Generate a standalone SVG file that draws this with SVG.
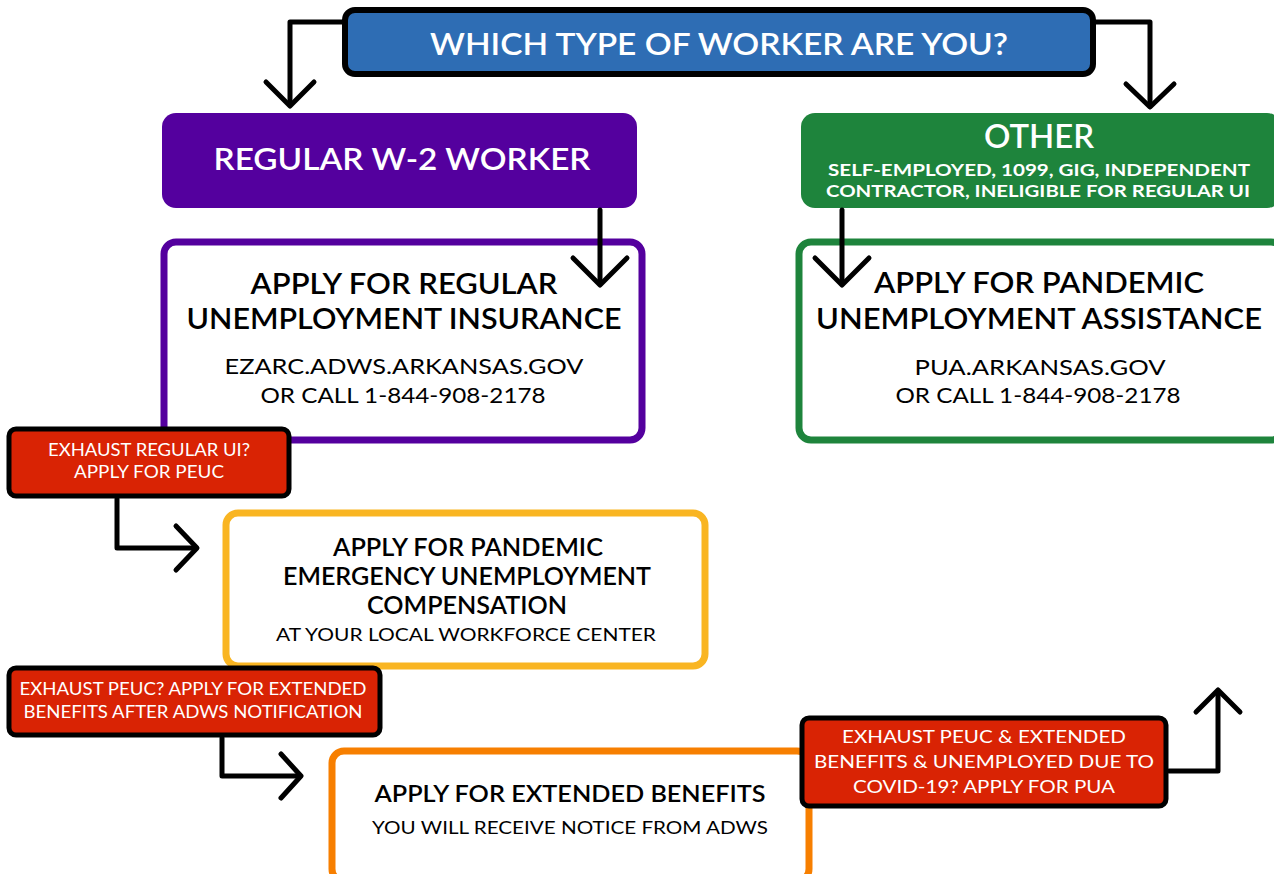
<svg xmlns="http://www.w3.org/2000/svg" width="1274" height="874" viewBox="0 0 1274 874">
<style>
text{font-family:Lato,"Open Sans","Liberation Sans",sans-serif;text-anchor:middle}
.w{fill:#fff}
.k{fill:#000}
.red{fill:#d92304;stroke:#000;stroke-width:5}
.conn{fill:none;stroke:#000;stroke-width:5;stroke-linecap:round;stroke-linejoin:round}
</style>
<rect width="1274" height="874" fill="#fff"/>
<g id="question">
<rect x="345" y="10" width="748" height="64" rx="10" fill="#2e6db4" stroke="#000" stroke-width="6"/>
<text x="719" y="55" class="w" font-size="30" font-weight="600" textLength="578" lengthAdjust="spacingAndGlyphs">WHICH TYPE OF WORKER ARE YOU?</text>
</g>
<g id="regular">
<rect x="162" y="113" width="475" height="95" rx="14" fill="#54009e"/>
<text x="402" y="170" class="w" font-size="30" font-weight="600" textLength="377" lengthAdjust="spacingAndGlyphs">REGULAR W-2 WORKER</text>
</g>
<g id="other">
<rect x="801" y="113" width="480" height="95" rx="14" fill="#1e843c"/>
<text x="1039" y="148" class="w" font-size="32" font-weight="600" textLength="110" lengthAdjust="spacingAndGlyphs">OTHER</text>
<text x="1039" y="176" class="w" font-size="17.5" font-weight="700" textLength="422" lengthAdjust="spacingAndGlyphs">SELF-EMPLOYED, 1099, GIG, INDEPENDENT</text>
<text x="1038" y="197" class="w" font-size="17.5" font-weight="700" textLength="424" lengthAdjust="spacingAndGlyphs">CONTRACTOR, INELIGIBLE FOR REGULAR UI</text>
</g>
<g id="apply-ui">
<rect x="164" y="242" width="478" height="198" rx="12" fill="#fff" stroke="#54009e" stroke-width="7"/>
<text x="404" y="294" class="k" font-size="28" font-weight="600" textLength="307" lengthAdjust="spacingAndGlyphs">APPLY FOR REGULAR</text>
<text x="404" y="329" class="k" font-size="28" font-weight="600" textLength="435" lengthAdjust="spacingAndGlyphs">UNEMPLOYMENT INSURANCE</text>
<text x="404" y="374" class="k" font-size="22" textLength="359" lengthAdjust="spacingAndGlyphs">EZARC.ADWS.ARKANSAS.GOV</text>
<text x="403" y="403" class="k" font-size="22" textLength="285" lengthAdjust="spacingAndGlyphs">OR CALL 1-844-908-2178</text>
</g>
<g id="apply-pua">
<rect x="799" y="242" width="484" height="198" rx="12" fill="#fff" stroke="#1e843c" stroke-width="7"/>
<text x="1039" y="293" class="k" font-size="28" font-weight="600" textLength="330" lengthAdjust="spacingAndGlyphs">APPLY FOR PANDEMIC</text>
<text x="1039" y="329" class="k" font-size="28" font-weight="600" textLength="446" lengthAdjust="spacingAndGlyphs">UNEMPLOYMENT ASSISTANCE</text>
<text x="1040" y="375" class="k" font-size="22" textLength="251" lengthAdjust="spacingAndGlyphs">PUA.ARKANSAS.GOV</text>
<text x="1038" y="403" class="k" font-size="22" textLength="285" lengthAdjust="spacingAndGlyphs">OR CALL 1-844-908-2178</text>
</g>
<g id="exhaust-ui">
<rect x="9" y="429" width="280" height="67" rx="7" class="red"/>
<text x="149" y="456" class="w" font-size="17" textLength="202" lengthAdjust="spacingAndGlyphs">EXHAUST REGULAR UI?</text>
<text x="149" y="478" class="w" font-size="17" textLength="150" lengthAdjust="spacingAndGlyphs">APPLY FOR PEUC</text>
</g>
<g id="apply-peuc">
<rect x="226" y="513" width="479" height="153" rx="12" fill="#fff" stroke="#f9b522" stroke-width="7"/>
<text x="468" y="556" class="k" font-size="24" font-weight="600" textLength="270" lengthAdjust="spacingAndGlyphs">APPLY FOR PANDEMIC</text>
<text x="467" y="585" class="k" font-size="24" font-weight="600" textLength="368" lengthAdjust="spacingAndGlyphs">EMERGENCY UNEMPLOYMENT</text>
<text x="467" y="614" class="k" font-size="24" font-weight="600" textLength="200" lengthAdjust="spacingAndGlyphs">COMPENSATION</text>
<text x="466" y="641" class="k" font-size="18" textLength="380" lengthAdjust="spacingAndGlyphs">AT YOUR LOCAL WORKFORCE CENTER</text>
</g>
<g id="exhaust-peuc">
<rect x="9" y="668" width="371" height="67" rx="7" class="red"/>
<text x="193" y="695" class="w" font-size="17" textLength="347" lengthAdjust="spacingAndGlyphs">EXHAUST PEUC? APPLY FOR EXTENDED</text>
<text x="193" y="718" class="w" font-size="17" textLength="339" lengthAdjust="spacingAndGlyphs">BENEFITS AFTER ADWS NOTIFICATION</text>
</g>
<g id="apply-eb">
<rect x="332" y="751" width="477" height="130" rx="12" fill="#fff" stroke="#f77f00" stroke-width="7"/>
<text x="570" y="802" class="k" font-size="23" font-weight="600" textLength="391" lengthAdjust="spacingAndGlyphs">APPLY FOR EXTENDED BENEFITS</text>
<text x="570" y="834" class="k" font-size="17" textLength="396" lengthAdjust="spacingAndGlyphs">YOU WILL RECEIVE NOTICE FROM ADWS</text>
</g>
<g id="exhaust-all">
<rect x="802" y="718" width="364" height="88" rx="7" class="red"/>
<text x="984" y="743" class="w" font-size="18" textLength="284" lengthAdjust="spacingAndGlyphs">EXHAUST PEUC &amp; EXTENDED</text>
<text x="984" y="768" class="w" font-size="18" textLength="340" lengthAdjust="spacingAndGlyphs">BENEFITS &amp; UNEMPLOYED DUE TO</text>
<text x="984" y="793" class="w" font-size="18" textLength="262" lengthAdjust="spacingAndGlyphs">COVID-19? APPLY FOR PUA</text>
</g>
<g id="connectors" class="conn">
<polyline points="345,22 290,22 290,105"/><polyline points="266,82 290,106 314,82"/>
<polyline points="1093,22 1150,22 1150,106"/><polyline points="1126,84 1150,107 1174,84"/>
<polyline points="600,210 600,284"/><polyline points="573,258 600,285 627,258"/>
<polyline points="842,210 842,284"/><polyline points="815,258 842,285 869,258"/>
<polyline points="117,499 117,548 196,548"/><polyline points="176,526 197,548 176,570"/>
<polyline points="222,738 222,776 300,776"/><polyline points="281,754 301,776 281,798"/>
<polyline points="1169,771 1218,771 1218,691"/><polyline points="1196,712 1218,690 1240,712"/>
</g>
</svg>
